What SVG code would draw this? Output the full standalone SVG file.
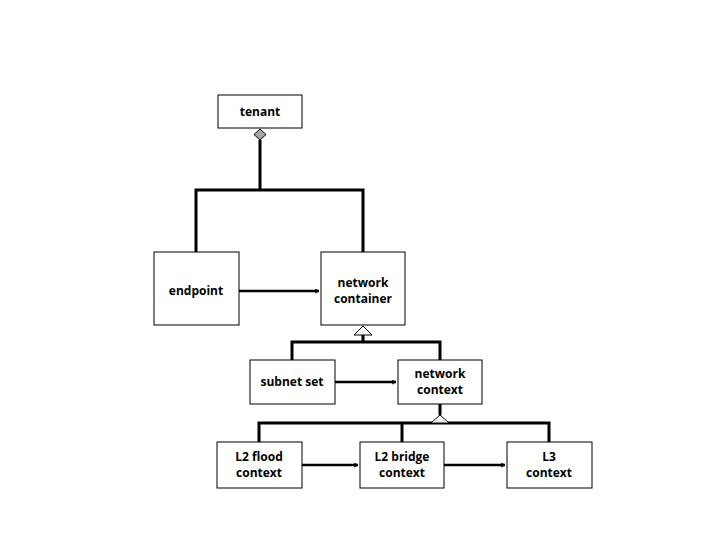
<svg xmlns="http://www.w3.org/2000/svg" width="720" height="540" viewBox="0 0 720 540">
<style>
.box{fill:#fff;stroke:#000;stroke-width:1}
.t{font-family:"Open Sans","Liberation Sans",sans-serif;font-weight:bold;font-size:12px;text-anchor:middle;fill:#000}
.ln{fill:none;stroke:#000;stroke-width:3}
.ar{fill:none;stroke:#000;stroke-width:2}
</style>
<defs>
<marker id="arr" viewBox="0 0 10 10" refX="9" refY="5" markerWidth="5" markerHeight="5" orient="auto" markerUnits="userSpaceOnUse"><path d="M1,1 L9,5 L1,9" fill="none" stroke="#000" stroke-width="2"/></marker>
</defs>
<rect width="720" height="540" fill="#fff"/>
<g id="connectors">
<path class="ln" d="M260,140 V190 M196,252 V190 H363 V252"/>
<polygon points="260,129 266,134.5 260,140 254,134.5" fill="#a6a6a6" stroke="#000" stroke-width="1"/>
<line class="ar" x1="239" y1="291" x2="319" y2="291" style="stroke-width:2.5" marker-end="url(#arr)"/>
<path class="ln" d="M363,335 V342 M292,360 V342 H440 V360"/>
<polygon points="363,326 372,335 354,335" fill="#fff" stroke="#000" stroke-width="1"/>
<line class="ar" x1="335" y1="382" x2="396" y2="382" style="stroke-width:2.5" marker-end="url(#arr)"/>
<path class="ln" d="M440,404 V415 M259,442 V423 H549 V442 M402,423 V442"/>
<polygon points="440,415 449,423 431,423" fill="#fff" stroke="#000" stroke-width="1"/>
<line class="ar" x1="302" y1="465" x2="358" y2="465" style="stroke-width:2.5" marker-end="url(#arr)"/>
<line class="ar" x1="444" y1="465" x2="505" y2="465" style="stroke-width:2.5" marker-end="url(#arr)"/>
</g>
<g id="tenant"><rect class="box" x="218" y="95" width="84" height="33"/><text class="t" x="260" y="116">tenant</text></g>
<g id="endpoint"><rect class="box" x="154" y="252" width="85" height="73"/><text class="t" x="196" y="295">endpoint</text></g>
<g id="network-container"><rect class="box" x="321" y="252" width="84" height="73"/><text class="t" x="363" y="287">network</text><text class="t" x="363" y="303">container</text></g>
<g id="subnet-set"><rect class="box" x="250" y="360" width="85" height="44"/><text class="t" x="292" y="386">subnet set</text></g>
<g id="network-context"><rect class="box" x="398" y="360" width="84" height="44"/><text class="t" x="440" y="378">network</text><text class="t" x="440" y="394">context</text></g>
<g id="l2-flood"><rect class="box" x="217" y="442" width="85" height="46"/><text class="t" x="259" y="461">L2 flood</text><text class="t" x="259" y="477">context</text></g>
<g id="l2-bridge"><rect class="box" x="360" y="442" width="84" height="46"/><text class="t" x="402" y="461">L2 bridge</text><text class="t" x="402" y="477">context</text></g>
<g id="l3"><rect class="box" x="507" y="442" width="85" height="46"/><text class="t" x="549" y="461">L3</text><text class="t" x="549" y="477">context</text></g>
</svg>
